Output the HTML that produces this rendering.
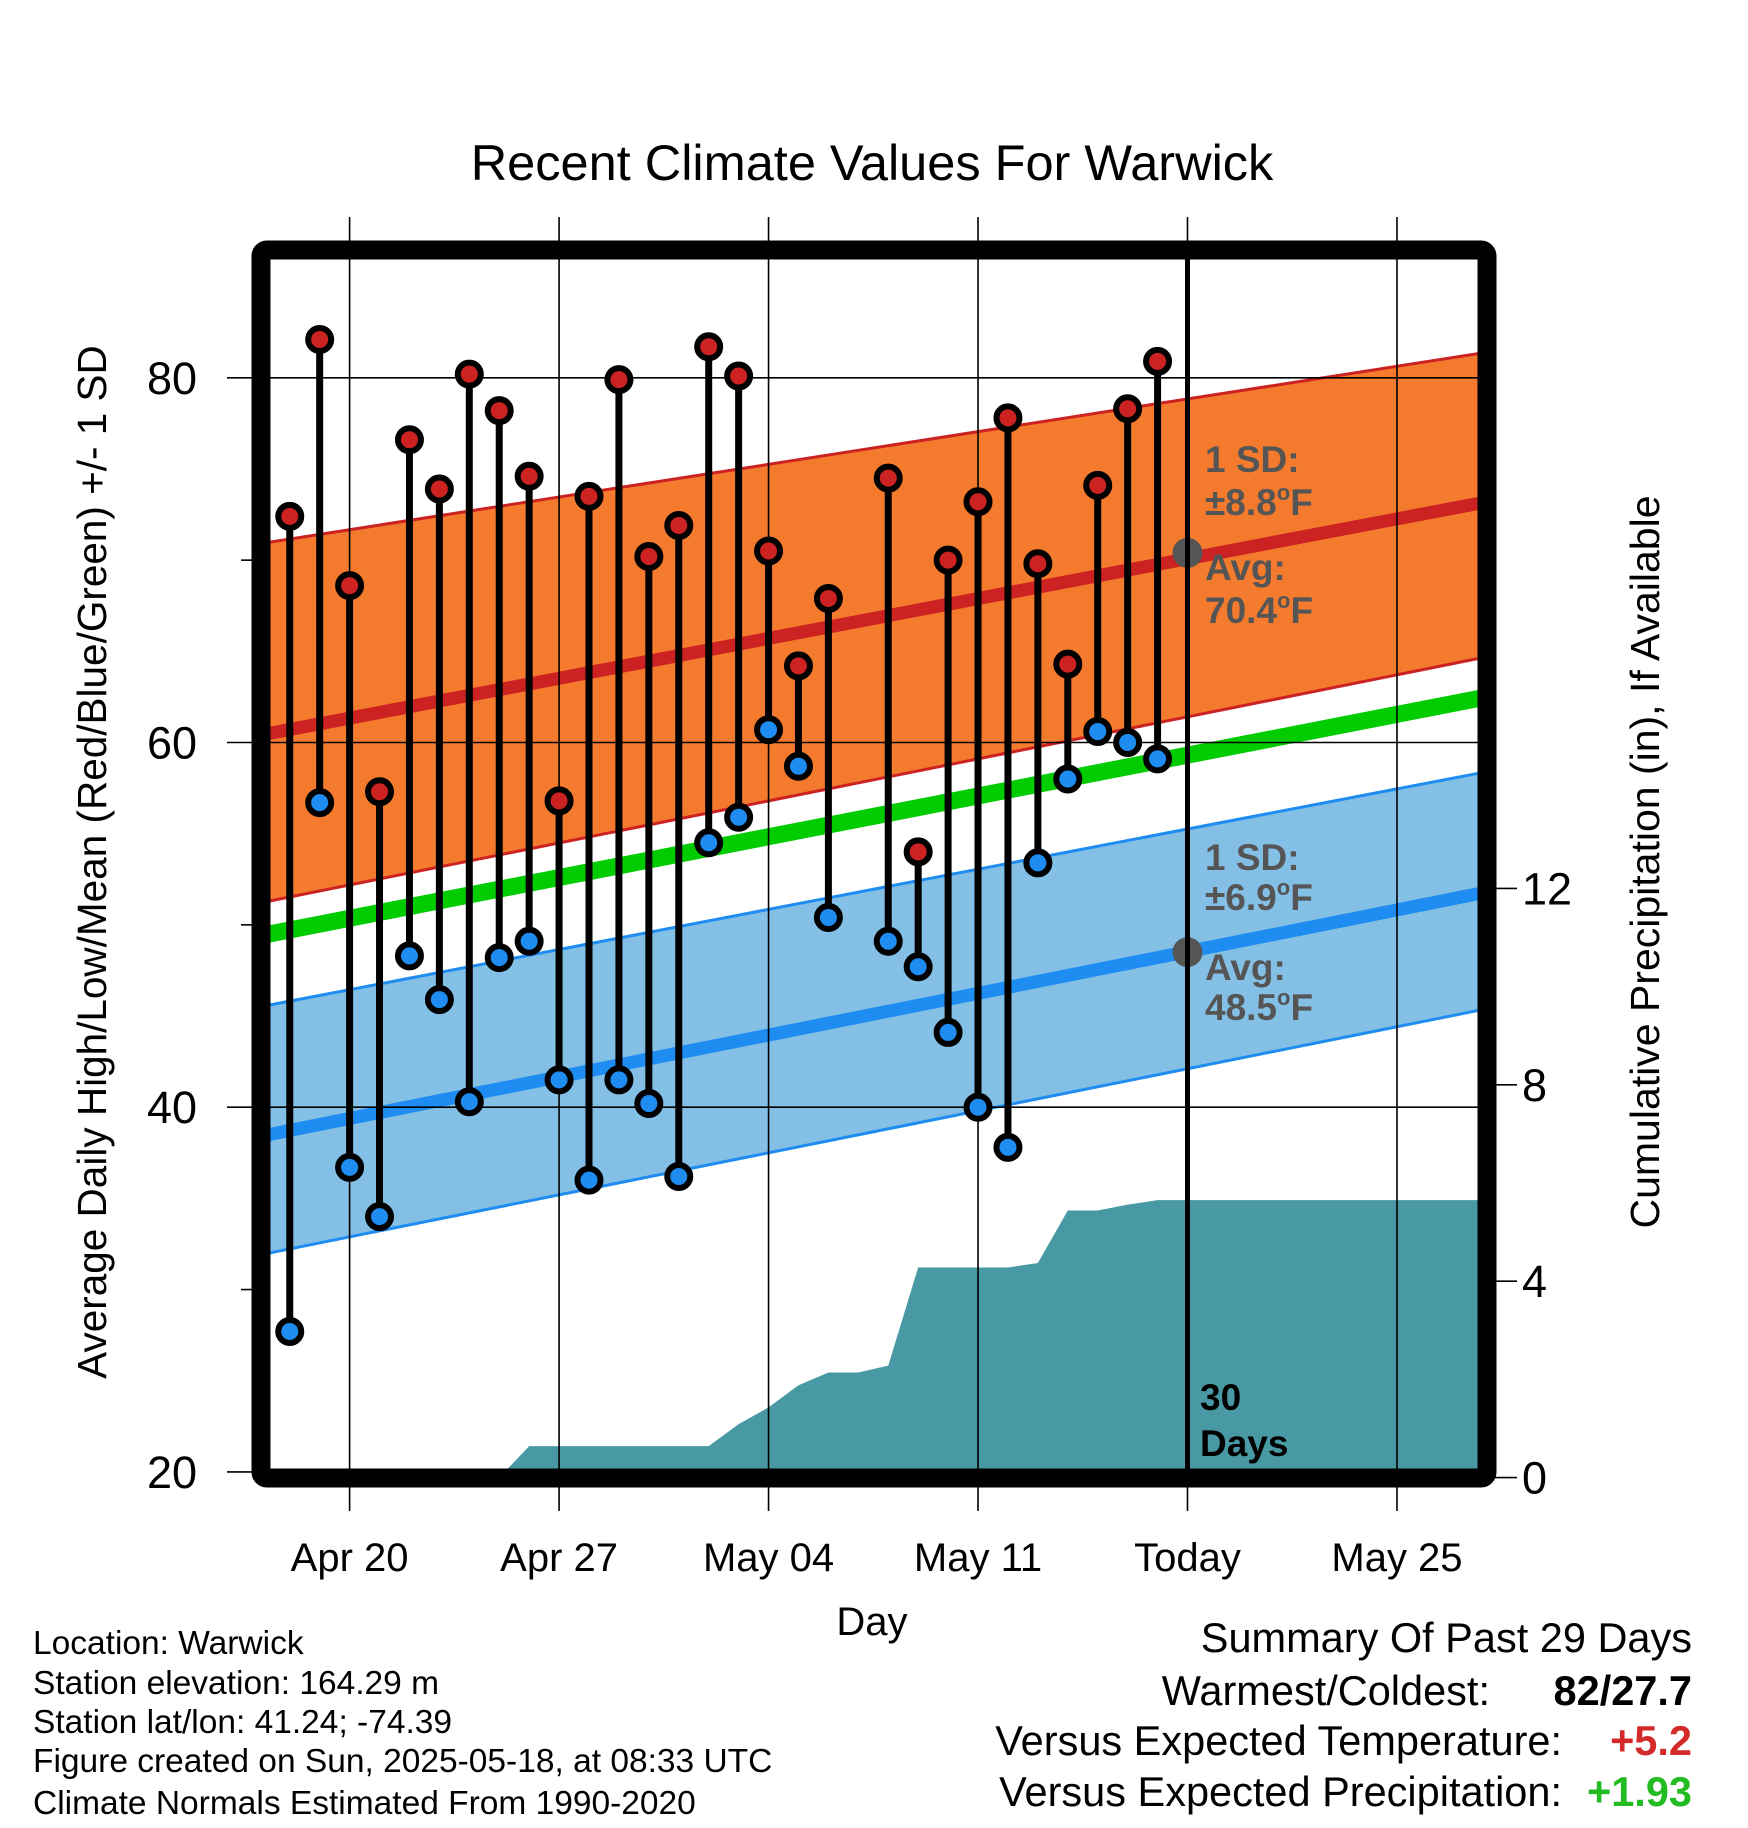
<!DOCTYPE html>
<html><head><meta charset="utf-8"><style>
html,body{margin:0;padding:0;background:#fff}
svg{display:block}
text{font-family:"Liberation Sans",sans-serif}
</style></head><body>
<svg id="chart" width="1748" height="1828" viewBox="0 0 1748 1828" xmlns="http://www.w3.org/2000/svg">
<defs><clipPath id="plotclip"><rect x="270" y="259" width="1208" height="1210"/></clipPath></defs>
<g id="fills" clip-path="url(#plotclip)"></g>
<g id="grid"></g>
<g id="marks"></g>
<g id="annot"></g>
<rect x="261" y="250" width="1226" height="1228" rx="6" fill="none" stroke="#000" stroke-width="19"/>
<g id="axes"></g>
<text x="872" y="180" font-size="50.5" text-anchor="middle">Recent Climate Values For Warwick</text>
<text transform="translate(106,862) rotate(-90)" font-size="40.5" text-anchor="middle">Average Daily High/Low/Mean (Red/Blue/Green) +/- 1 SD</text>
<text transform="translate(1659,862) rotate(-90)" font-size="41" text-anchor="middle">Cumulative Precipitation (in), If Available</text>
<text x="872" y="1635" font-size="40" text-anchor="middle">Day</text>
<g font-size="33.5">
<text x="33" y="1654">Location: Warwick</text>
<text x="33" y="1694">Station elevation: 164.29 m</text>
<text x="33" y="1733">Station lat/lon: 41.24; -74.39</text>
<text x="33" y="1772">Figure created on Sun, 2025-05-18, at 08:33 UTC</text>
<text x="33" y="1814">Climate Normals Estimated From 1990-2020</text>
</g>
<g font-size="41.5">
<text x="1692" y="1652" text-anchor="end">Summary Of Past 29 Days</text>
<text x="1490" y="1705" text-anchor="end">Warmest/Coldest:</text>
<text x="1692" y="1705" text-anchor="end" font-weight="bold">82/27.7</text>
<text x="1562" y="1755" text-anchor="end">Versus Expected Temperature:</text>
<text x="1692" y="1755" text-anchor="end" font-weight="bold" fill="#d42a2a">+5.2</text>
<text x="1562" y="1806" text-anchor="end">Versus Expected Precipitation:</text>
<text x="1692" y="1806" text-anchor="end" font-weight="bold" fill="#22bb22">+1.93</text>
</g>
</svg>
<script>
// days relative to Apr 20
const dayIdx = [-2,-1,0,1,2,3,4,5,6,7,8,9,10,11,12,13,14,15,16,18,19,20,21,22,23,24,25,26,27];
const highs = [72.4,82.1,68.6,57.3,76.6,73.9,80.2,78.2,74.6,56.8,73.5,79.9,70.2,71.9,81.7,80.1,70.5,64.2,67.9,74.5,54.0,70.0,73.2,77.8,69.8,64.3,74.1,78.3,80.9];
const lows = [27.7,56.7,36.7,34.0,48.3,45.9,40.3,48.2,49.1,41.5,36.0,41.5,40.2,36.2,54.5,55.9,60.7,58.7,50.4,49.1,47.7,44.1,40.0,37.8,53.4,58.0,60.6,60.0,59.1];
const precipDays = [-3,5,6,12,13,14,15,16,17,18,19,22,23,24,25,26,27,28,38];
const precipCum = [0,0,0.64,0.64,1.09,1.43,1.88,2.14,2.14,2.28,4.28,4.28,4.37,5.44,5.44,5.56,5.65,5.65,5.65];
const normEndDays = [-3,38];
const normHigh = [60.4,73.2];
const highUpper = [70.9,81.4];
const highLower = [51.2,64.7];
const normLow = [38.4,51.8];
const lowUpper = [45.5,58.4];
const lowLower = [31.9,45.4];
const meanTemp = [49.4,62.5];
const sdHigh = 8.8, sdLow = 6.9;
const todayAvgHigh = 70.4, todayAvgLow = 48.5;
const yTicks = [20,40,60,80];
const yMinor = [30,50,70];
const y2Ticks = [0,4,8,12];
const xTickDays = [0,7,14,21,28,35];
const xTickLabels = ["Apr 20","Apr 27","May 04","May 11","Today","May 25"];

const NS="http://www.w3.org/2000/svg";
const X=d=>349.6+d*29.925;
const Y=v=>742.5-(v-60)*18.235;
const YP=p=>1477.6-p*49.1;
function mk(parent,tag,attrs){const e=document.createElementNS(NS,tag);for(const k in attrs)e.setAttribute(k,attrs[k]);parent.appendChild(e);return e;}
const fills=document.getElementById('fills'),grid=document.getElementById('grid'),marks=document.getElementById('marks'),annot=document.getElementById('annot'),axes=document.getElementById('axes');
const xa=X(normEndDays[0]),xb=X(normEndDays[1]);
function band(m,up,lo,fill,edge,name){
  const p=mk(fills,'polygon',{points:`${xa},${Y(up[0])} ${xb},${Y(up[1])} ${xb},${Y(lo[1])} ${xa},${Y(lo[0])}`,fill:fill});
  
  
  [up,lo].forEach(b=>{const l=mk(fills,'line',{x1:xa,y1:Y(b[0]),x2:xb,y2:Y(b[1]),stroke:edge,'stroke-width':3});
    
    });
  const ml=mk(fills,'line',{x1:xa,y1:Y(m[0]),x2:xb,y2:Y(m[1]),stroke:edge,'stroke-width':13});
  
  
}
band(normHigh,highUpper,highLower,'#f47a2e','#cc2222','high');
band(normLow,lowUpper,lowLower,'#84c0e6','#1e8cf0','low');
const g=mk(fills,'line',{x1:xa,y1:Y(meanTemp[0]),x2:xb,y2:Y(meanTemp[1]),stroke:'#00cc00','stroke-width':17});


let pts=precipDays.map((d,i)=>`${X(d)},${YP(precipCum[i])}`).join(' ');
pts+=` ${X(38)},${YP(0)} ${X(-3)},${YP(0)}`;
const pa=mk(fills,'polygon',{points:pts,fill:'#4899a3'});


xTickDays.forEach((d,i)=>{
  const l=mk(grid,'line',{x1:X(d),y1:217,x2:X(d),y2:1511,stroke:'#000','stroke-width':1.6});
  
  
  const t=mk(axes,'text',{x:X(d),y:1571,'font-size':40,'text-anchor':'middle'});t.textContent=xTickLabels[i];
  
  
});
yTicks.forEach(v=>{
  const l=mk(grid,'line',{x1:227,y1:Y(v),x2:1487,y2:Y(v),stroke:'#000','stroke-width':1.6});
  
  
  const t=mk(axes,'text',{x:197,y:Y(v)+16,'font-size':45,'text-anchor':'end'});t.textContent=v;
  
  
});
yMinor.forEach(v=>{const l=mk(axes,'line',{x1:241,y1:Y(v),x2:255,y2:Y(v),stroke:'#000','stroke-width':1.6});
  
  });
y2Ticks.forEach(p=>{
  const l=mk(axes,'line',{x1:1490,y1:YP(p),x2:1517,y2:YP(p),stroke:'#000','stroke-width':1.6});
  
  
  const t=mk(axes,'text',{x:1522,y:YP(p)+16,'font-size':45});t.textContent=p;
  
  
});
[todayAvgHigh,todayAvgLow].forEach(v=>{const c=mk(annot,'circle',{cx:X(28),cy:Y(v),r:15,fill:'#555'});
  
  });
const tl=mk(annot,'line',{x1:X(28),y1:255,x2:X(28),y2:1472,stroke:'#000','stroke-width':5});


dayIdx.forEach((d,i)=>{
  const s=mk(marks,'line',{x1:X(d),y1:Y(highs[i]),x2:X(d),y2:Y(lows[i]),stroke:'#000','stroke-width':7});
  
  
  [[highs[i],'#cc2222','high-marker'],[lows[i],'#1e8cf0','low-marker']].forEach(([v,c,n])=>{
    const o=mk(marks,'circle',{cx:X(d),cy:Y(v),r:11.5,fill:c,stroke:'#000','stroke-width':6});
    
    
  });
});
function txt(x,y,s,size,fill,name){const t=mk(annot,'text',{x:x,y:y,'font-size':size,'font-weight':'bold',fill:fill});t.innerHTML=s;
  
  }
const deg='<tspan font-size="22" dy="-15">o</tspan><tspan dy="15">F</tspan>';
txt(1205,472,'1 SD:',37,'#555','high-sd-label');
txt(1205,515,'±'+sdHigh.toFixed(1)+deg,37,'#555','high-sd-value');
txt(1205,580,'Avg:',37,'#555','high-avg-label');
txt(1205,623,todayAvgHigh.toFixed(1)+deg,37,'#555','high-avg-value');
txt(1205,870,'1 SD:',37,'#555','low-sd-label');
txt(1205,910,'±'+sdLow.toFixed(1)+deg,37,'#555','low-sd-value');
txt(1205,980,'Avg:',37,'#555','low-avg-label');
txt(1205,1020,todayAvgLow.toFixed(1)+deg,37,'#555','low-avg-value');
txt(1200,1410,'30',37,'#000','days-count');
txt(1200,1456,'Days',37,'#000','days-label');
</script>
</body></html>
